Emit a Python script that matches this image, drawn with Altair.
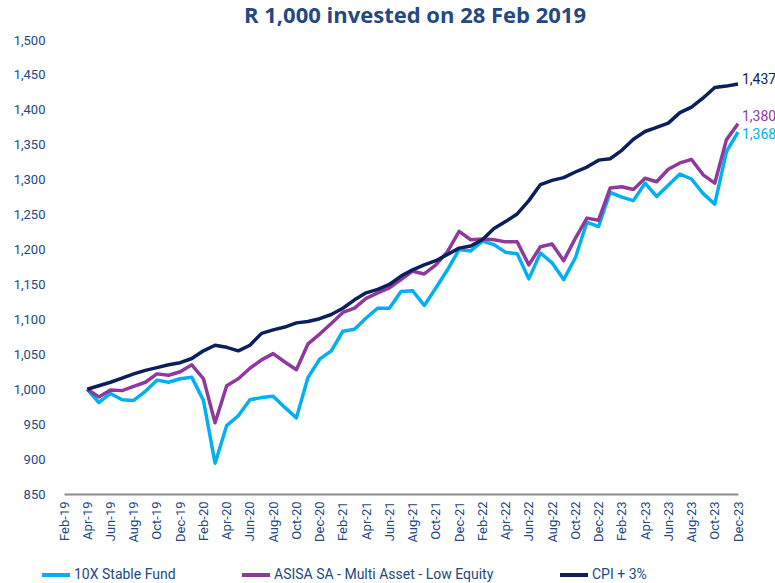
import altair as alt
import pandas as pd

mon = ["Jan", "Feb", "Mar", "Apr", "May", "Jun", "Jul", "Aug", "Sep", "Oct", "Nov", "Dec"]
months = [f"{m}-{str(y)[2:]}" for y in range(2019, 2024) for m in mon][1:]  # Feb-19 .. Dec-23

series_names = ["10X Stable Fund", "ASISA SA - Multi Asset - Low Equity", "CPI + 3%"]
colors = ["#00B0F0", "#8E3A9C", "#0B1F5C"]

# values from Apr-19 to Dec-23
fund_10x = [1000, 981, 994, 985, 984, 997, 1013, 1010, 1015, 1017,
            984, 894, 948, 962, 985, 988, 990, 974, 959, 1017,
            1043, 1055, 1083, 1086, 1102, 1116, 1116, 1140, 1141, 1120,
            1145, 1171, 1200, 1198, 1212, 1207, 1196, 1194, 1158, 1195,
            1181, 1157, 1188, 1239, 1233, 1282, 1275, 1270, 1295, 1276,
            1292, 1308, 1301, 1280, 1265, 1340, 1368]
asisa = [1000, 989, 999, 998, 1004, 1010, 1022, 1020, 1025, 1035,
         1015, 952, 1005, 1015, 1030, 1042, 1051, 1039, 1028, 1065,
         1079, 1094, 1110, 1116, 1130, 1138, 1145, 1157, 1169, 1165,
         1178, 1197, 1226, 1214, 1215, 1214, 1211, 1211, 1178, 1204,
         1208, 1184, 1216, 1245, 1242, 1288, 1290, 1286, 1302, 1297,
         1315, 1324, 1329, 1307, 1295, 1357, 1380]
cpi = [1000, 1005, 1010, 1016, 1022, 1027, 1031, 1035, 1038, 1044,
       1055, 1063, 1060, 1055, 1063, 1080, 1085, 1089, 1095, 1097,
       1101, 1107, 1116, 1128, 1138, 1143, 1150, 1162, 1171, 1178,
       1184, 1193, 1202, 1205, 1214, 1230, 1240, 1251, 1270, 1293,
       1299, 1303, 1311, 1318, 1328, 1330, 1342, 1358, 1369, 1375,
       1381, 1396, 1404, 1417, 1432, 1434, 1437]
y_ticks = [850, 900, 950, 1000, 1050, 1100, 1150, 1200, 1250, 1300, 1350, 1400, 1450, 1500]

rows = []
for name, vals in zip(series_names, [fund_10x, asisa, cpi]):
    for k, v in enumerate(vals):
        rows.append({"month": months[k + 2], "idx": k + 2, "series": name, "value": v})
df = pd.DataFrame(rows)

TEXT = "#24487F"
last_idx = len(months) - 1

x_scale = alt.Scale(domain=months, type="point", padding=0)
y_scale = alt.Scale(domain=[850, 1500], nice=False, zero=False)

x_enc = alt.X("month:O", scale=x_scale,
              axis=alt.Axis(values=months[::2], labelAngle=-90, ticks=False,
                            domainColor="#8C8C8C", domainWidth=2, labelColor=TEXT,
                            labelFont="Roboto", labelFontSize=13, labelPadding=7,
                            labelOverlap=False, title=None, grid=False))
y_enc = alt.Y("value:Q", scale=y_scale,
              axis=alt.Axis(values=y_ticks, format=",.0f", domain=False,
                            ticks=False, grid=False, labelPadding=19, labelColor=TEXT,
                            labelFont="Roboto", labelFontSize=13, labelOverlap=False,
                            labelFlush=False, title=None))
color_scale = alt.Scale(domain=series_names, range=colors)

base = alt.Chart(df)

lines = base.mark_line(strokeWidth=3.5, strokeJoin="round").encode(
    x=x_enc, y=y_enc,
    color=alt.Color("series:N", scale=color_scale,
                    legend=alt.Legend(orient="none", legendX=-24, legendY=519,
                                      direction="horizontal", title=None,
                                      symbolType="stroke", symbolStrokeWidth=4,
                                      symbolSize=784, labelFont="Roboto",
                                      labelFontSize=14, labelColor=TEXT,
                                      labelLimit=0, labelOffset=2, columnPadding=58)),
    order=alt.Order("idx:Q"),
)

label_layers = []
for name, dy in zip(series_names, [3, -7, -4]):
    label_layers.append(
        base.transform_filter(
            (alt.datum.idx == last_idx) & (alt.datum.series == name)
        ).mark_text(align="left", baseline="middle", dx=4, dy=dy,
                    font="Roboto", fontSize=14).encode(
            x=x_enc,
            y=y_enc,
            text=alt.Text("value:Q", format=",.0f"),
            color=alt.Color("series:N", scale=color_scale, legend=None),
        )
    )

chart = alt.layer(lines, *label_layers).properties(
    width=674, height=454,
    background="white",
    padding={"left": 64, "top": 40, "right": 37, "bottom": 89},
    autosize=alt.AutoSizeParams(type="none"),
    title=alt.TitleParams("R 1,000 invested on 28 Feb 2019", font="Open Sans",
                          fontSize=22, fontWeight="bold", color=TEXT,
                          anchor="middle", offset=6, dx=14),
).configure_view(stroke=None)

chart.save("out.html", embed_options={"renderer": "svg", "actions": False})
